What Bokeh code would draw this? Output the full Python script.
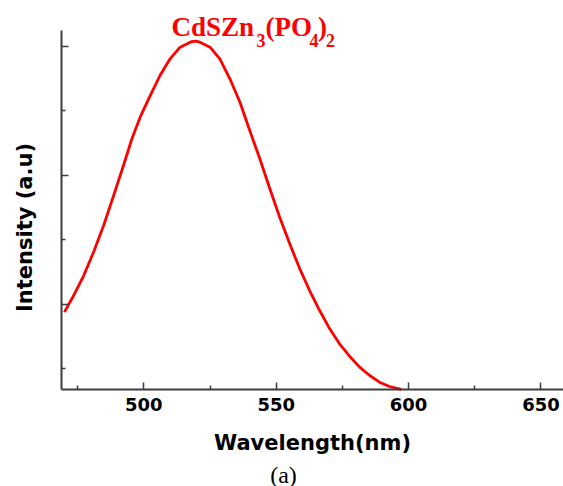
import math
from bokeh.plotting import figure
from bokeh.models import Label, FixedTicker, Range1d
from bokeh.embed import file_html
from bokeh.resources import INLINE

# ---- data ----
wavelength = [470.0, 473.5, 477.3, 481.0, 484.8, 488.6, 492.3, 495.5, 498.6, 502.4,
              506.1, 509.9, 513.7, 518.1, 519.6, 521.2, 525.0, 528.7, 532.5, 536.3,
              540.0, 543.8, 547.6, 551.3, 555.1, 558.9, 562.6, 566.4, 570.2, 573.9,
              577.7, 581.5, 585.3, 589.0, 592.8, 597.2]
intensity = [1878, 2137, 2447, 2809, 3223, 3688, 4154, 4568, 4903, 5239,
             5550, 5809, 5989, 6077, 6082, 6066, 5989, 5809, 5499, 5136,
             4697, 4258, 3792, 3352, 2939, 2551, 2214, 1904, 1620, 1388,
             1195, 1025, 896, 792, 725, 679]
x_major_ticks = [500, 550, 600, 650]
x_minor_ticks = [475, 525, 575, 625]
y_major_ticks = [2000, 4000, 6000]
y_minor_ticks = [1000, 3000, 5000]
x_title = "Wavelength(nm)"
y_title = "Intensity (a.u)"
caption = "(a)"
title_parts = [("CdSZn", "main"), ("3", "sub"), ("(PO", "main"), ("4", "sub"), (")", "main"), ("2", "sub")]

# ---- layout ----
W, H = 563, 486
AL, AR, AT, AB = 61, 563, 30, 389.3   # axes box edges in px (canvas coords)
X0, X1 = 468.9, 658.5                 # axis extents in data units
Y0, Y1 = 674, 6248

def dx(px):
    return X0 + (px - AL) / (AR - AL) * (X1 - X0)

def dy(py):
    return Y0 + (AB - py) / (AB - AT) * (Y1 - Y0)

# the plotting frame covers the whole canvas; the axes are pinned at the box edges
p = figure(width=W, height=H, output_backend="svg", toolbar_location=None,
           x_range=Range1d(dx(0), dx(W)), y_range=Range1d(dy(H), dy(0)),
           min_border=0, min_border_left=0, min_border_right=0,
           min_border_top=0, min_border_bottom=0)
p.outline_line_color = None
p.xgrid.visible = False
p.ygrid.visible = False
p.background_fill_color = "white"
p.border_fill_color = "white"

axis_col = "#3c3c3c"
for ax in (p.xaxis[0], p.yaxis[0]):
    ax.axis_line_color = axis_col
    ax.axis_line_width = 2
    ax.major_tick_line_color = axis_col
    ax.minor_tick_line_color = axis_col
    ax.major_tick_line_width = 1.5
    ax.minor_tick_line_width = 1.5
    ax.major_tick_in = 7
    ax.major_tick_out = 0
    ax.minor_tick_in = 4
    ax.minor_tick_out = 0

p.xaxis.fixed_location = Y0
p.xaxis.bounds = (X0, X1)
p.yaxis.fixed_location = X0
p.yaxis.bounds = (Y0, Y1)

p.xaxis.ticker = FixedTicker(ticks=x_major_ticks, minor_ticks=x_minor_ticks)
p.yaxis.ticker = FixedTicker(ticks=y_major_ticks, minor_ticks=y_minor_ticks)
p.xaxis.major_label_text_font = "DejaVu Sans"
p.xaxis.major_label_text_font_style = "bold"
p.xaxis.major_label_text_font_size = "18px"
p.xaxis.major_label_text_color = "black"
p.xaxis.major_label_standoff = 8
p.xaxis.axis_label = x_title
p.xaxis.axis_label_text_font = "DejaVu Sans"
p.xaxis.axis_label_text_font_style = "bold"
p.xaxis.axis_label_text_font_size = "21px"
p.xaxis.axis_label_text_color = "black"
p.xaxis.axis_label_standoff = 17
p.yaxis.major_label_overrides = {t: "" for t in y_major_ticks}
p.yaxis.major_label_standoff = 0

p.line(wavelength, intensity, line_color="#ff0000", line_width=2.8, line_join="round")

# y-axis title
p.add_layout(Label(x=dx(24), y=dy(227), text=y_title, angle=math.pi / 2,
                   text_align="center", text_baseline="middle",
                   text_font="DejaVu Sans", text_font_style="bold",
                   text_font_size="21px", text_color="black"))

# caption
p.add_layout(Label(x=dx(283), y=dy(474), text=caption,
                   text_align="center", text_baseline="middle",
                   text_font="Liberation Serif", text_font_size="24px",
                   text_color="black"))

# chemical formula title with subscripts
pos_x = [171, 256, 265, 309, 317.5, 325.5]
for (txt, kind), px in zip(title_parts, pos_x):
    if kind == "main":
        size, mid = "27px", 26.5
    else:
        size, mid = "18px", 40
    p.add_layout(Label(x=dx(px), y=dy(mid), text=txt,
                       text_align="left", text_baseline="middle",
                       text_font="Liberation Serif", text_font_style="bold",
                       text_font_size=size, text_color="#ff0000"))

open("out.html", "w").write(file_html(p, INLINE))
